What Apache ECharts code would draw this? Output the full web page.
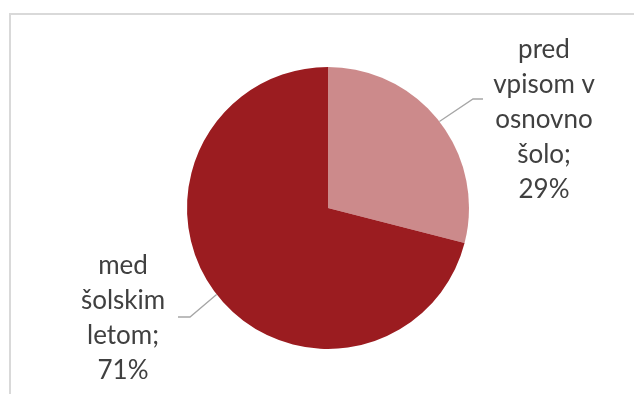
<!DOCTYPE html>
<html>
<head>
<meta charset="utf-8">
<script src="https://cdn.jsdelivr.net/npm/echarts@6/dist/echarts.min.js"></script>
<style>
html,body{margin:0;padding:0;background:#fff;}
#frame{position:absolute;left:9px;top:13px;width:640px;height:400px;border:2px solid #d9d9d9;box-sizing:border-box;}
#chart{position:absolute;left:0;top:0;width:634px;height:394px;}
</style>
</head>
<body>
<div id="frame"></div>
<div id="chart"></div>
<script>
const categories = ['pred vpisom v osnovno šolo', 'med šolskim letom'];
const labelTexts = ['pred\nvpisom v\nosnovno\nšolo;', 'med\nšolskim\nletom;'];
const values = [29, 71];
const colors = ['#CC8A8B', '#9B1C20'];

const chart = echarts.init(document.getElementById('chart'), null, {renderer: 'canvas'});
const data = categories.map((c, i) => ({
  name: c, value: values[i], itemStyle: {color: colors[i]}
}));

chart.setOption({
  animation: false,
  series: [{
    type: 'pie',
    center: [328, 208],
    radius: [0, 141],
    startAngle: 90,
    clockwise: true,
    data: data,
    itemStyle: {borderWidth: 0},
    emphasis: {disabled: true},
    label: {
      show: true,
      position: 'outside',
      formatter: p => labelTexts[p.dataIndex] + '\n' + p.percent.toFixed(0) + '%',
      fontFamily: 'Lato',
      fontSize: 26,
      lineHeight: 35,
      color: '#404040',
      align: 'center'
    },
    labelLine: {show: true, lineStyle: {color: '#a6a6a6', width: 1.3}},
    labelLayout: function (p) {
      const a = p.labelLinePoints ? p.labelLinePoints[0] : [0, 0];
      if (p.dataIndex === 0) {
        return {x: 544, y: 120, align: 'center', verticalAlign: 'middle',
          labelLinePoints: [a, [473, 99], [483, 99]]};
      } else {
        return {x: 123, y: 318, align: 'center', verticalAlign: 'middle',
          labelLinePoints: [a, [190, 317], [178, 317]]};
      }
    }
  }]
});
</script>
</body>
</html>
